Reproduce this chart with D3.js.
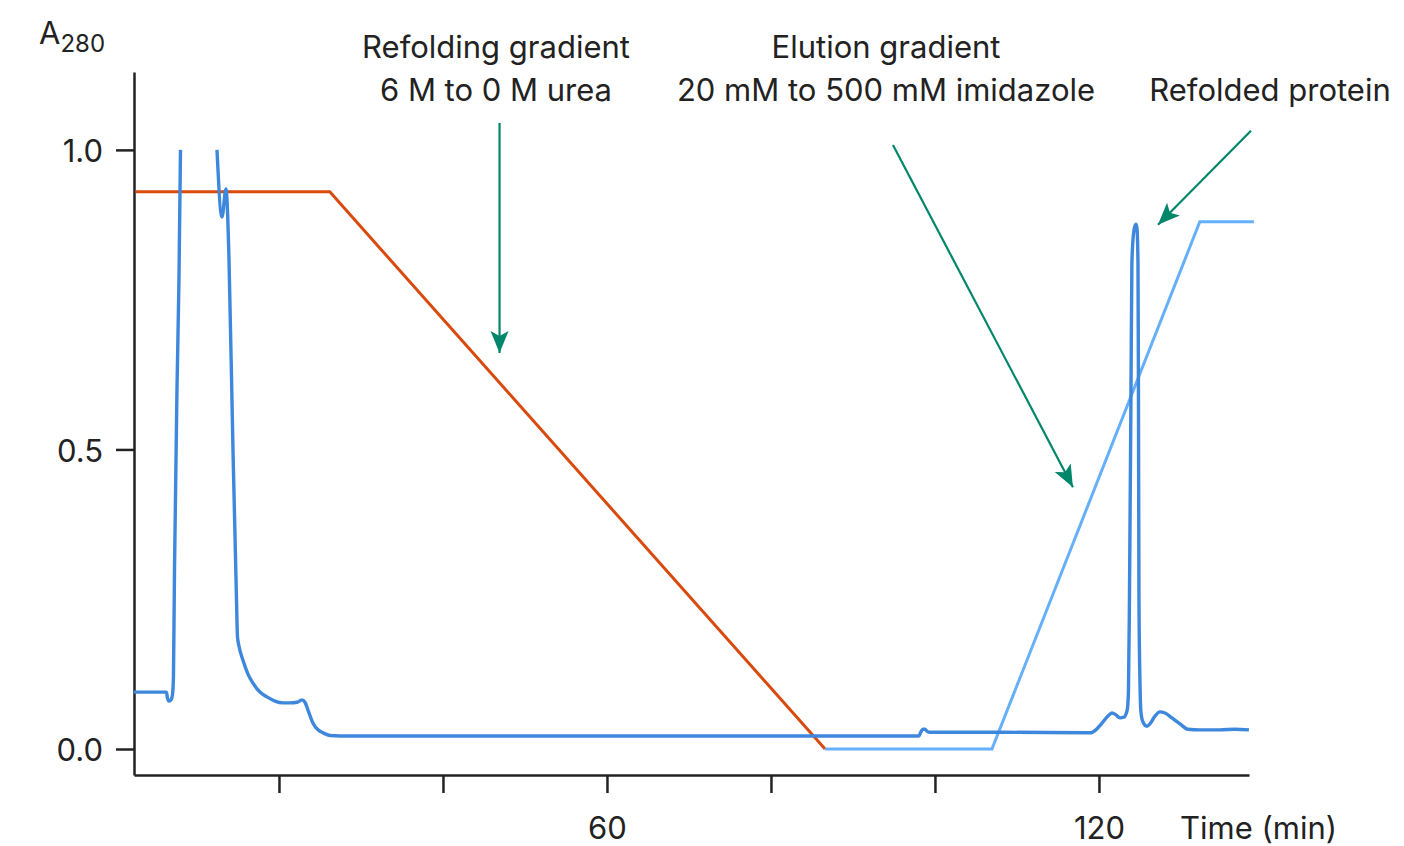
<!DOCTYPE html>
<meta charset="utf-8">
<head>
    <title>Refolding chromatogram</title>
    <script src="https://d3js.org/d3.v7.min.js"></script>
</head>
<style>
body {
    margin: 0;
    background: #fff;
}

svg text {
    font-family: Inter, Roboto, 'Liberation Sans', sans-serif;
    fill: #222;
}

.axis path,
.axis line {
    stroke: #222;
    stroke-width: 2.5px;
}

.note {
    font-size: 31px;
}
</style>
<body>
<svg width="1404" height="846"></svg>
<script>

// A280 trace (time in min, absorbance); null = off scale
const a280Time = [2.3, 6.28, 6.40, 6.59, 6.83, 7.01, 7.13, 7.26, 7.56, 7.80, 7.99, 10.2, 12.44, 13.05, 13.54, 13.66, 13.90, 14.39, 14.82, 14.94,
    15.12, 15.61, 16.22, 16.83, 17.68, 18.54, 19.51, 20.49, 21.34, 22.20, 22.80, 23.17, 23.54, 24.15, 24.76, 25.37, 26.22, 27.44,
    98.05, 98.23, 98.54, 98.78, 99.02, 99.39, 107.93, 119.02, 119.63, 120.37, 121.10, 121.59, 122.07, 122.56, 123.05, 123.29,
    123.48, 123.60, 123.72, 123.90, 124.02, 124.27, 124.51, 124.63, 124.76, 124.82, 124.88, 125.00, 125.12, 125.37, 125.85,
    126.22, 126.83, 127.44, 128.05, 128.90, 129.88, 130.85, 132.32, 134.76, 136.59, 138.29];
const a280Value = [0.095, 0.095, 0.085, 0.080, 0.082, 0.090, 0.12, 0.30, 0.60, 0.78, 1.0, null, 1.0, 0.888, 0.935, 0.917, 0.82, 0.50, 0.249, 0.187,
    0.172, 0.148, 0.125, 0.110, 0.095, 0.087, 0.080, 0.077, 0.077, 0.078, 0.082, 0.078, 0.065, 0.043, 0.032, 0.027, 0.0225, 0.0217,
    0.0217, 0.027, 0.033, 0.033, 0.030, 0.028, 0.028, 0.027, 0.032, 0.043, 0.055, 0.060, 0.057, 0.052, 0.053, 0.058,
    0.068, 0.098, 0.249, 0.583, 0.813, 0.866, 0.876, 0.870, 0.813, 0.583, 0.252, 0.115, 0.062, 0.045, 0.038,
    0.042, 0.055, 0.062, 0.060, 0.052, 0.042, 0.033, 0.032, 0.032, 0.033, 0.032];

// urea gradient (drawn on A280 scale)
const ureaTime = [2.5, 26.2, 86.6];
const ureaValue = [0.93, 0.93, 0];

// imidazole gradient
const imidTime = [86.6, 106.95, 132.3, 138.9];
const imidValue = [0, 0, 0.88, 0.88];

const xTicks = [20, 40, 60, 80, 100, 120];
const xTickLabels = ['', '', '60', '', '', '120'];
const yTicks = [0, 0.5, 1.0];
const yTickLabels = ['0.0', '0.5', '1.0'];

// annotations: [label lines], arrow from/to in (time, A280)
const notes = [
    {lines: ['Refolding gradient', '6 M to 0 M urea'], x: 496, from: [46.9, 1.045], to: [46.9, 0.661]},
    {lines: ['Elution gradient', '20 mM to 500 mM imidazole'], x: 886, from: [94.88, 1.008], to: [116.83, 0.437]},
    {lines: ['', 'Refolded protein'], x: 1270, from: [138.54, 1.032], to: [127.2, 0.875]}
];

const svg = d3.select('svg');

const x = d3.scaleLinear().domain([2.32, 138.3]).range([134, 1249]);
const y = d3.scaleLinear().domain([-0.0434, 1.130]).range([775, 72]);

const teal = '#00866b';

svg.append('defs').append('marker')
    .attr('id', 'head')
    .attr('markerUnits', 'userSpaceOnUse')
    .attr('viewBox', '-24 -10 26 20')
    .attr('refX', 0)
    .attr('refY', 0)
    .attr('markerWidth', 26)
    .attr('markerHeight', 20)
    .attr('orient', 'auto')
    .append('path')
    .attr('d', 'M0,0 L-22,-9 L-17,0 L-22,9 Z')
    .attr('fill', teal);

// axes
const xAxis = d3.axisBottom(x)
    .tickValues(xTicks)
    .tickFormat((d, i) => xTickLabels[i])
    .tickSize(18)
    .tickPadding(24)
    .tickSizeOuter(0);

const yAxis = d3.axisLeft(y)
    .tickValues(yTicks)
    .tickFormat((d, i) => yTickLabels[i])
    .tickSize(18)
    .tickPadding(13)
    .tickSizeOuter(0);

const gx = svg.append('g')
    .attr('class', 'axis')
    .attr('transform', 'translate(0,775)')
    .call(xAxis);
gx.selectAll('text').style('font-size', '31px');

const gy = svg.append('g')
    .attr('class', 'axis')
    .attr('transform', 'translate(134,0)')
    .call(yAxis);
gy.selectAll('text').style('font-size', '31px').attr('dy', '0.38em');

// axis titles
const yTitle = svg.append('text')
    .attr('x', 39)
    .attr('y', 44)
    .style('font-size', '31px');
yTitle.append('tspan').text('A');
yTitle.append('tspan').attr('dy', 8).style('font-size', '24px').text('280');

svg.append('text')
    .attr('x', 1180)
    .attr('y', 839)
    .style('font-size', '31px')
    .text('Time (min)');

// lines
const line = d3.line()
    .defined(d => d[1] != null)
    .x(d => x(d[0]))
    .y(d => y(d[1]));

svg.append('path')
    .datum(ureaTime.map((t, i) => [t, ureaValue[i]]))
    .attr('d', line)
    .attr('fill', 'none')
    .attr('stroke', '#d94a0c')
    .attr('stroke-width', 3);

svg.append('path')
    .datum(imidTime.map((t, i) => [t, imidValue[i]]))
    .attr('d', line)
    .attr('fill', 'none')
    .attr('stroke', '#66b0fb')
    .attr('stroke-width', 3);

svg.append('path')
    .datum(a280Time.map((t, i) => [t, a280Value[i]]))
    .attr('d', line.curve(d3.curveMonotoneX))
    .attr('fill', 'none')
    .attr('stroke', '#3d87dc')
    .attr('stroke-width', 3.4)
    .attr('stroke-linejoin', 'round');

// annotations
notes.forEach(n => {
    const t = svg.append('text')
        .attr('class', 'note')
        .attr('text-anchor', 'middle');
    n.lines.forEach((s, i) => {
        t.append('tspan').attr('x', n.x).attr('y', 58 + i * 43).text(s);
    });
    svg.append('line')
        .attr('x1', x(n.from[0]))
        .attr('y1', y(n.from[1]))
        .attr('x2', x(n.to[0]))
        .attr('y2', y(n.to[1]))
        .attr('stroke', teal)
        .attr('stroke-width', 2.2)
        .attr('marker-end', 'url(#head)');
});

</script>
</body>
